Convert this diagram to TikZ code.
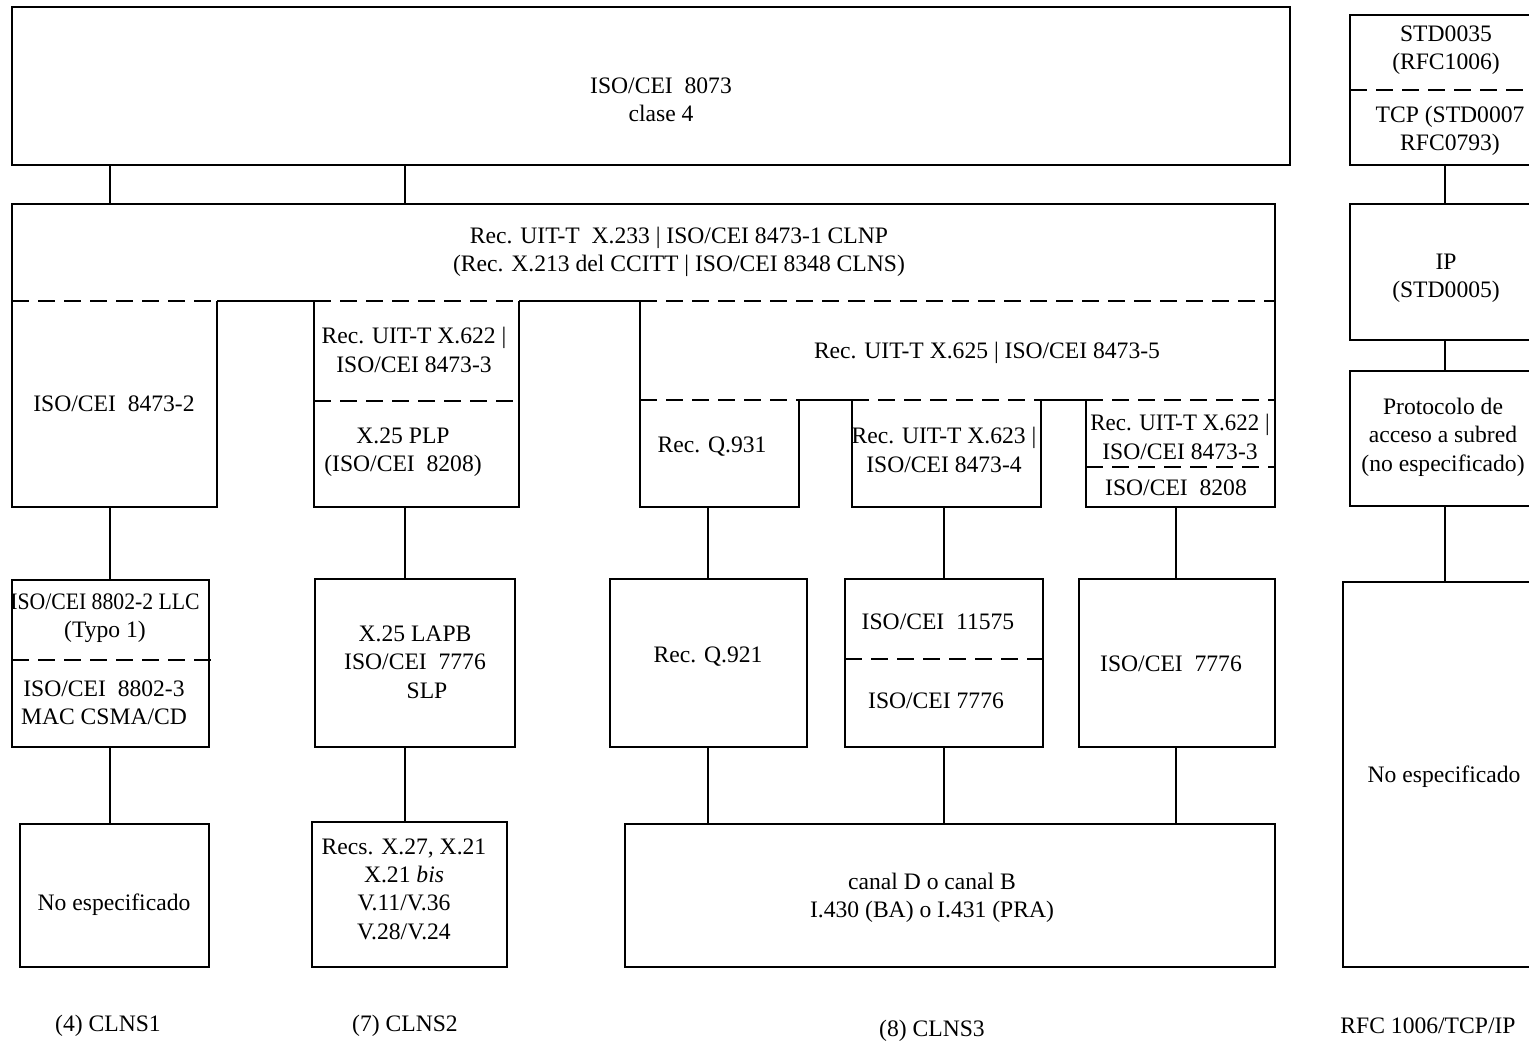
\documentclass[tikz,border=0pt]{standalone}
\usepackage{fontspec}
\setmainfont{Liberation Serif}
\usepackage{graphicx}
\newcommand\mkbox[6]{%
  \pgfmathsetmacro\bxw{#4-#2}\pgfmathsetmacro\bxh{#5-#3}%
  \node[#6, minimum width=\bxw pt, minimum height=\bxh pt] (#1) at ({(#2+#4)/2},{(#3+#5)/2}) {};}
\begin{document}
\begin{tikzpicture}[x=1pt,y=-1pt,
  box/.style={draw, rectangle, line width=1.1pt, inner sep=0pt, outer sep=0pt},
  openbox/.style={rectangle, inner sep=0pt, outer sep=0pt},
  ln/.style={line width=1.1pt},
  dl/.style={line width=1.1pt, dash pattern=on 17pt off 9pt},
  lbl/.style={font=\fontsize{23.6}{28.4}\selectfont, align=center, inner sep=0pt}]
\useasboundingbox (0,0) rectangle (1529,1042);
\clip (0,0) rectangle (1529,1042);

% top box
\mkbox{t4}{12}{7}{1290}{165}{box}
\node[lbl] (t4t) at (661,100) {ISO/CEI\ \ 8073\\clase 4};

% CLNP
\mkbox{clnp}{12}{204}{1275}{301}{openbox}
\draw[ln] (clnp.south west) -- (clnp.north west) -- (clnp.north east) -- (clnp.south east);
\node[lbl] (clnpt) at (679,252) {Rec. UIT-T\ \ X.233 | ISO/CEI 8473-1 CLNP\\(Rec. X.213 del CCITT | ISO/CEI 8348 CLNS)};

\coordinate (k110) at (110,0);
\coordinate (k405) at (405,0);
\coordinate (k708) at (708,0);
\coordinate (k944) at (944,0);
\coordinate (k1176) at (1176,0);
\coordinate (k1445) at (1445,0);
\draw[ln] (t4.south -| k110) -- (clnp.north -| k110);
\draw[ln] (t4.south -| k405) -- (clnp.north -| k405);

% sub-boxes of CLNP
\mkbox{b82}{12}{301}{217}{507}{openbox}
\mkbox{x622}{314}{301}{519}{507}{openbox}
\mkbox{x625}{640}{301}{1275}{400}{openbox}
\mkbox{q931}{640}{400}{799}{507}{openbox}
\mkbox{x623}{852}{400}{1041}{507}{openbox}
\mkbox{x622b}{1086}{400}{1275}{507}{openbox}
\foreach \nm in {b82,x622,q931,x623,x622b}{
  \draw[ln] (\nm.north west) -- (\nm.south west) -- (\nm.south east) -- (\nm.north east);
  \draw[dl] (\nm.north west) -- (\nm.north east);
}
\draw[ln] (x625.south west) -- (x625.north west);
\draw[ln] (x625.north east) -- (x625.south east);
\draw[dl] (x625.north west) -- (x625.north east);
\draw[ln] (b82.north east) -- (x622.north west);
\draw[ln] (x622.north east) -- (x625.north west);
\draw[ln] (q931.north east) -- (x623.north west);
\draw[ln] (x623.north east) -- (x622b.north west);

\coordinate (y401) at (0,401);
\draw[dl] (x622.west |- y401) -- (x622.east |- y401);
\coordinate (y467) at (0,467);
\draw[dl] (x622b.west |- y467) -- (x622b.east |- y467);

\node[lbl] (b82t) at (114,404) {ISO/CEI\ \ 8473-2};
\node[lbl] (x622t1) at (414,350) {Rec. UIT-T X.622 |\\ISO/CEI 8473-3};
\node[lbl] (x622t2) at (403,452) {X.25 PLP\\(ISO/CEI\ \ 8208)};
\node[lbl] (x625t) at (987,353) {Rec. UIT-T X.625 | ISO/CEI 8473-5};
\node[lbl] (q931t) at (712,447) {Rec. Q.931};
\node[lbl] (x623t) at (944,450) {Rec. UIT-T X.623 |\\ISO/CEI 8473-4};
\node[lbl] (x622bt1) at (1180,437) {\scalebox{0.97}[1]{Rec. UIT-T X.622 |}\\ISO/CEI 8473-3};
\node[lbl] (x622bt2) at (1176,488) {ISO/CEI\ \ 8208};

% row 3
\mkbox{llc}{12}{580}{209}{747}{box}
\coordinate (y660) at (0,660);
\draw[dl] (llc.west |- y660) -- ([xshift=3pt]llc.east |- y660);
\node[lbl] (llct1) at (105,618) {\scalebox{0.92}[1]{ISO/CEI 8802-2 LLC}\\(Typo 1)};
\node[lbl] (llct2) at (104,703) {ISO/CEI\ \ 8802-3\\MAC CSMA/CD};

\mkbox{lapb}{315}{579}{515}{747}{box}
\node[lbl] (lapbt) at (415,662) {X.25 LAPB\\ISO/CEI\ \ 7776\\\hspace*{24pt}SLP};

\mkbox{q921}{610}{579}{807}{747}{box}
\node[lbl] (q921t) at (708,657) {Rec. Q.921};

\mkbox{c11575}{845}{579}{1043}{747}{box}
\coordinate (y659) at (0,659);
\draw[dl] (c11575.west |- y659) -- (c11575.east |- y659);
\node[lbl] (c11575t1) at (938,622) {ISO/CEI\ \ 11575};
\node[lbl] (c11575t2) at (936,701) {ISO/CEI 7776};

\mkbox{c7776}{1079}{579}{1275}{747}{box}
\node[lbl] (c7776t) at (1171,664) {ISO/CEI\ \ 7776};

% row 4
\mkbox{ne1}{20}{824}{209}{967}{box}
\node[lbl] (ne1t) at (114,905) {No especificado};
\mkbox{recs}{312}{822}{507}{967}{box}
\node[lbl] (recst) at (404,889) {Recs. X.27, X.21\\X.21 \textit{bis}\\V.11/V.36\\V.28/V.24};
\mkbox{canal}{625}{824}{1275}{967}{box}
\node[lbl] (canalt) at (932,898) {canal D o canal B\\I.430 (BA) o I.431 (PRA)};

% vertical connectors
\draw[ln] (b82.south -| k110) -- (llc.north -| k110);
\draw[ln] (llc.south -| k110) -- (ne1.north -| k110);
\draw[ln] (x622.south -| k405) -- (lapb.north -| k405);
\draw[ln] (lapb.south -| k405) -- (recs.north -| k405);
\draw[ln] (q931.south -| k708) -- (q921.north -| k708);
\draw[ln] (q921.south -| k708) -- (canal.north -| k708);
\draw[ln] (x623.south -| k944) -- (c11575.north -| k944);
\draw[ln] (c11575.south -| k944) -- (canal.north -| k944);
\draw[ln] (x622b.south -| k1176) -- (c7776.north -| k1176);
\draw[ln] (c7776.south -| k1176) -- (canal.north -| k1176);

% right column (boxes run past the right edge of the picture)
\mkbox{std}{1350}{15}{1540}{165}{box}
\coordinate (y90) at (0,90);
\draw[dl] (std.west |- y90) -- (std.east |- y90);
\node[lbl] (stdt1) at (1446,50) {STD0035\\(RFC1006)};
\node[lbl] (stdt2) at (1450,131) {TCP (STD0007\\RFC0793)};
\mkbox{ip}{1350}{204}{1540}{340}{box}
\node[lbl] (ipt) at (1446,278) {IP\\(STD0005)};
\mkbox{proto}{1350}{371}{1540}{506}{box}
\node[lbl] (protot) at (1443,437) {Protocolo de\\acceso a subred\\(no especificado)};
\mkbox{ne2}{1343}{582}{1540}{967}{box}
\node[lbl] (ne2t) at (1444,777) {No especificado};
\draw[ln] (std.south -| k1445) -- (ip.north -| k1445);
\draw[ln] (ip.south -| k1445) -- (proto.north -| k1445);
\draw[ln] (proto.south -| k1445) -- (ne2.north -| k1445);

% bottom labels
\node[lbl] (L1) at (108,1026) {(4) CLNS1};
\node[lbl] (L2) at (405,1026) {(7) CLNS2};
\node[lbl] (L3) at (932,1031) {(8) CLNS3};
\node[lbl] (L4) at (1428,1026) {RFC 1006/TCP/IP};
\end{tikzpicture}
\end{document}
